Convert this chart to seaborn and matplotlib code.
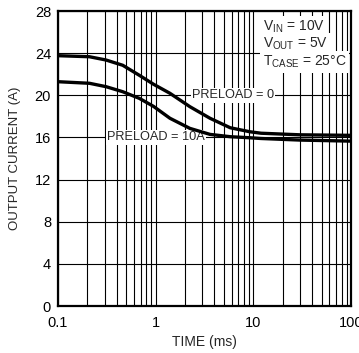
import matplotlib
matplotlib.use("Agg")
import matplotlib.pyplot as plt
import seaborn as sns
import pandas as pd
from matplotlib.ticker import FixedLocator, NullFormatter, FixedFormatter

# ---- data ----
time_ms = [0.1, 0.21, 0.31, 0.46, 0.68, 0.95, 1.4, 2.24, 3.6, 5.8, 9.2, 12.0, 30.0, 100.0]
preload_0 = [23.76, 23.66, 23.35, 22.85, 21.9, 21.05, 20.19, 18.92, 17.82, 16.92, 16.54, 16.4, 16.25, 16.2]
preload_10 = [21.29, 21.14, 20.82, 20.34, 19.71, 18.95, 17.82, 16.86, 16.29, 16.07, 15.97, 15.9, 15.75, 15.65]
y_ticks = [0, 4, 8, 12, 16, 20, 24, 28]
x_ticks = [0.1, 1, 10, 100]
x_tick_labels = ["0.1", "1", "10", "100"]

df = pd.DataFrame({
    "time": time_ms * 2,
    "current": preload_0 + preload_10,
    "series": ["PRELOAD = 0"] * len(time_ms) + ["PRELOAD = 10A"] * len(time_ms),
})

sns.set_style("white")
plt.rcParams["font.family"] = ["Liberation Sans", "DejaVu Sans"]
plt.rcParams["mathtext.default"] = "regular"

fig = plt.figure(figsize=(3.59, 3.53), dpi=100)
ax = fig.add_axes([0.1616, 0.1331, 0.8161, 0.8357])

sns.lineplot(data=df, x="time", y="current", units="series", estimator=None,
             color="black", linewidth=2.4, ax=ax, legend=False, zorder=4)
for ln in ax.lines:
    ln.set_solid_joinstyle("round")
    ln.set_solid_capstyle("butt")

ax.set_xscale("log")
ax.set_xlim(0.1, 100)
ax.set_ylim(0, 28)

# grid
minor = [m * d for d in (0.1, 1, 10) for m in range(2, 10)]
ax.xaxis.set_major_locator(FixedLocator(x_ticks))
ax.xaxis.set_major_formatter(FixedFormatter(x_tick_labels))
ax.xaxis.set_minor_locator(FixedLocator(minor))
ax.xaxis.set_minor_formatter(NullFormatter())
ax.set_yticks(y_ticks)
ax.grid(True, which="both", axis="x", color="black", linewidth=0.8)
ax.grid(True, which="major", axis="y", color="black", linewidth=0.8)
ax.tick_params(which="both", length=0, labelsize=10.5, colors="black")
ax.tick_params(axis="x", pad=7)
ax.tick_params(axis="y", pad=5)

for s in ax.spines.values():
    s.set_color("black")
    s.set_linewidth(1.6)

ax.set_xlabel("TIME (ms)", fontsize=10, labelpad=4)
ax.set_ylabel("OUTPUT CURRENT (A)", fontsize=9.5, labelpad=10)

bb = dict(facecolor="white", edgecolor="none", pad=1.0)
ax.text(2.35, 20, "PRELOAD = 0", fontsize=9.2, va="center", ha="left", bbox=bb, zorder=3)
ax.text(0.317, 16, "PRELOAD = 10A", fontsize=9.2, va="center", ha="left", bbox=bb, zorder=3)

bb2 = dict(facecolor="white", edgecolor="none", pad=2.0)
ax.text(12.5, 26.5, "V$_{IN}$ = 10V", fontsize=10, va="center", ha="left", bbox=bb2, zorder=3)
ax.text(12.5, 24.9, "V$_{OUT}$ = 5V", fontsize=10, va="center", ha="left", bbox=bb2, zorder=3)
ax.text(12.5, 23.2, "T$_{CASE}$ = 25°C", fontsize=10, va="center", ha="left", bbox=bb2, zorder=3)

fig.savefig("out.png", dpi=100)
